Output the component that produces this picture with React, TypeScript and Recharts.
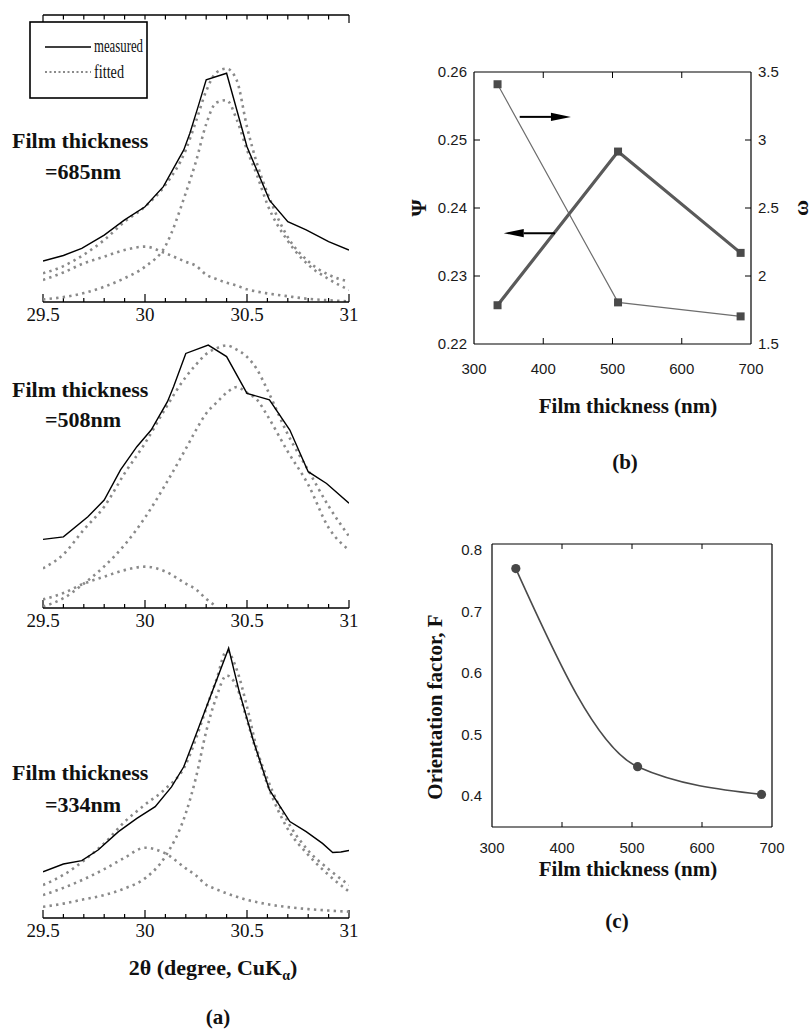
import React from 'react';
import { LineChart, Line, XAxis, YAxis, ReferenceLine } from 'recharts';

// ---------- (a) XRD profiles near 2θ ≈ 30.4° (intensity in arbitrary units) ----------
const THETA_TICKS = [29.5, 29.6, 29.7, 29.8, 29.9, 30.0, 30.1, 30.2, 30.3, 30.4, 30.5, 30.6, 30.7, 30.8, 30.9, 31.0];
const THETA_LABELS = [29.5, 30, 30.5, 31];

// 2θ grid of the fitted profiles
const THETA_FIT = [29.5, 29.6, 29.7, 29.8, 29.9, 30.0, 30.1, 30.2, 30.25, 30.3, 30.35, 30.4, 30.45, 30.5, 30.55, 30.6, 30.7, 30.8, 30.9, 31.0];

// 685 nm film
const FIT_685_TOTAL = [10.0, 12.5, 16.5, 21.6, 28.0, 33.2, 40.8, 53.0, 63.0, 73.5, 80.0, 81.3, 77.2, 61.0, 48.0, 38.0, 22.6, 14.2, 9.5, 7.1];
const FIT_685_MAIN = [0.9, 1.7, 3.1, 5.3, 8.3, 12.3, 19.5, 38.0, 49.0, 62.0, 69.5, 70.3, 63.5, 53.0, 44.0, 34.0, 21.3, 13.0, 8.0, 4.2];
const FIT_685_MINOR = [7.7, 10.3, 13.5, 15.8, 18.1, 19.3, 17.0, 14.0, 12.6, 9.5, 8.0, 6.7, 5.7, 4.4, 3.6, 3.0, 2.0, 1.1, 0.6, 0.2];
const MEAS_685_THETA = [29.5, 29.6, 29.69, 29.8, 29.9, 30.0, 30.09, 30.19, 30.22, 30.26, 30.3, 30.4, 30.5, 30.61, 30.7, 30.79, 30.9, 31.0];
const MEAS_685 = [14.3, 16.2, 18.7, 23.3, 28.6, 33.2, 40.2, 53.0, 58.8, 68.0, 77.4, 79.7, 54.1, 35.5, 28.0, 25.1, 21.0, 18.1];

// 508 nm film
const FIT_508_TOTAL = [13.8, 18.7, 27.3, 35.3, 46.9, 57.4, 69.5, 80.5, 84.8, 88.5, 90.5, 91.5, 90.0, 87.5, 83.0, 76.0, 60.5, 48.0, 35.5, 25.0];
const FIT_508_MAIN = [0.5, 3.4, 8.5, 14.5, 22.0, 31.5, 43.0, 55.5, 62.0, 67.8, 71.5, 75.0, 77.0, 75.0, 72.5, 67.0, 54.5, 43.0, 28.0, 20.2];
const FIT_508_MINOR = [3.0, 5.2, 8.5, 10.9, 13.2, 14.4, 12.7, 8.5, 6.5, 3.2, 0.5, null, null, null, null, null, null, null, null, null];
const MEAS_508_THETA = [29.5, 29.6, 29.72, 29.8, 29.88, 29.96, 30.03, 30.11, 30.14, 30.2, 30.31, 30.4, 30.5, 30.61, 30.71, 30.8, 30.89, 31.0];
const MEAS_508 = [23.9, 24.8, 31.8, 37.6, 48.1, 56.2, 62.0, 71.9, 77.1, 88.7, 91.6, 87.6, 74.8, 72.5, 62.0, 47.5, 43.4, 36.5];

// 334 nm film
const FIT_334_TOTAL = [11.5, 15.0, 20.0, 26.0, 33.5, 39.5, 45.0, 53.5, 62.5, 73.0, 83.0, 93.0, 86.5, 73.6, 58.5, 48.5, 33.5, 23.5, 17.0, 11.5];
const FIT_334_MAIN = [3.9, 5.0, 6.5, 8.0, 10.3, 13.8, 21.5, 36.5, 49.0, 65.0, 77.0, 84.5, 80.5, 69.0, 57.0, 46.5, 31.0, 22.0, 15.0, 9.2];
const FIT_334_MINOR = [8.0, 10.5, 13.5, 17.0, 21.0, 24.5, 22.5, 17.3, 14.8, 11.6, 10.0, 8.6, 7.4, 6.3, 5.5, 4.8, 3.8, 3.1, 2.6, 2.2];
const MEAS_334_THETA = [29.5, 29.6, 29.69, 29.77, 29.87, 29.96, 30.05, 30.13, 30.19, 30.24, 30.32, 30.41, 30.46, 30.53, 30.61, 30.71, 30.79, 30.87, 30.92, 30.96, 31.0];
const MEAS_334 = [16.1, 18.8, 20.0, 23.7, 30.1, 34.7, 38.8, 45.7, 52.7, 62.0, 77.1, 94.0, 79.4, 62.0, 44.6, 33.6, 30.1, 26.0, 22.8, 23.0, 23.5];

// ---------- (b) Ψ and ω, (c) orientation factor F vs film thickness ----------
const THICKNESS = [334, 508, 685];
const PSI = [0.2257, 0.2483, 0.2334];
const OMEGA = [3.41, 1.806, 1.703];
const F_FACTOR = [0.77, 0.448, 0.403];

const THICK_TICKS = [300, 400, 500, 600, 700];
const PSI_TICKS = [0.22, 0.23, 0.24, 0.25, 0.26];
const PSI_LABELS = ['0.22', '0.23', '0.24', '0.25', '0.26'];
const OMEGA_TICKS = [1.5, 2, 2.5, 3, 3.5];
const OMEGA_LABELS = ['1.5', '2', '2.5', '3', '3.5'];
const F_TICKS = [0.4, 0.5, 0.6, 0.7, 0.8];
const F_LABELS = ['0.4', '0.5', '0.6', '0.7', '0.8'];

// arrows pointing each curve to its axis: [x tail, x head, y]
const OMEGA_ARROW = [366, 440, 3.17];
const PSI_ARROW = [417, 343, 0.2363];

const SERIF = "'Liberation Serif', 'Times New Roman', serif";
const SANS = "'Liberation Sans', Arial, sans-serif";
const DOT_GRAY = '#8a8a8a';

// plot-area sizes (px), used to express tick-mark lengths in data units
const A_PLOT_H = 287;
const B_PLOT_W = 277;
const B_PLOT_H = 272;
const C_PLOT_H = 283;

const isMajor = (v: number) => THETA_LABELS.some((m) => Math.abs(m - v) < 1e-6);
const inner = (arr: number[]) => arr.slice(1, arr.length - 1);

const ThetaLabelTick = (props: any) => {
  const { x, y, payload } = props;
  const v = payload.value as number;
  if (!isMajor(v)) return <g />;
  return (
    <text x={x} y={y + 19} textAnchor="middle" fontFamily={SERIF} fontSize={19} fill="#111">
      {String(v)}
    </text>
  );
};

type XrdProps = {
  top: number;
  total: (number | null)[];
  main: (number | null)[];
  minor: (number | null)[];
  measTheta: number[];
  meas: number[];
  withTopAxis?: boolean;
};

const XrdPanel = ({ top, total, main, minor, measTheta, meas, withTopAxis }: XrdProps) => {
  const fitRows = THETA_FIT.map((t, i) => ({ theta: t, total: total[i], main: main[i], minor: minor[i] }));
  const measRows = measTheta.map((t, i) => ({ theta: t, I: meas[i] }));
  const px = 100 / A_PLOT_H;
  const dotted = {
    type: 'monotone' as const,
    stroke: DOT_GRAY,
    strokeWidth: 2.6,
    strokeDasharray: '2.4 4.2',
    dot: false,
    isAnimationActive: false,
    connectNulls: false,
  };
  return (
    <div style={{ position: 'absolute', left: 0, top }}>
      <LineChart width={360} height={340} data={fitRows} margin={{ top: 15, right: 11, bottom: 8, left: 43 }}>
        <XAxis
          dataKey="theta"
          type="number"
          domain={[29.5, 31]}
          allowDataOverflow
          ticks={THETA_TICKS}
          interval={0}
          height={30}
          tickSize={0}
          tickMargin={0}
          tickLine={false}
          axisLine={{ stroke: '#000', strokeWidth: 1.3 }}
          tick={<ThetaLabelTick />}
        />
        <YAxis hide width={0} type="number" domain={[0, 100]} allowDataOverflow />
        {/* inward tick marks: long at labelled values, short every 0.1° */}
        {THETA_TICKS.map((v) => (
          <ReferenceLine
            key={`b${v}`}
            segment={[{ x: v, y: 0 }, { x: v, y: (isMajor(v) ? 8 : 4) * px }]}
            stroke="#000"
            strokeWidth={1.2}
          />
        ))}
        {withTopAxis && <ReferenceLine y={100} stroke="#000" strokeWidth={1.3} />}
        {withTopAxis &&
          THETA_TICKS.map((v, i) => (
            <ReferenceLine
              key={`t${v}`}
              segment={[{ x: v, y: 100 }, { x: v, y: 100 - (i === 0 || i === THETA_TICKS.length - 1 ? 8 : 4.5) * px }]}
              stroke="#000"
              strokeWidth={1.2}
            />
          ))}
        <Line {...dotted} dataKey="minor" />
        <Line {...dotted} dataKey="main" />
        <Line {...dotted} dataKey="total" />
        <Line data={measRows} dataKey="I" type="linear" stroke="#000" strokeWidth={1.4} dot={false} isAnimationActive={false} />
      </LineChart>
    </div>
  );
};

// ---------- shared label renderers for (b) and (c) ----------
const makeBottomLabel = (gap: number) => (props: any) => {
  const { x, y, payload } = props;
  return (
    <text x={x} y={y + gap} textAnchor="middle" fontFamily={SANS} fontSize={15} fill="#1a1a1a">
      {String(payload.value)}
    </text>
  );
};

const makeSideLabel = (side: 'left' | 'right', ticks: number[], labels: string[], gap: number) => (props: any) => {
  const { x, y, payload } = props;
  const v = payload.value as number;
  const idx = ticks.findIndex((t) => Math.abs(t - v) < 1e-9);
  return (
    <text
      x={side === 'left' ? x - gap : x + gap}
      y={y + 5}
      textAnchor={side === 'left' ? 'end' : 'start'}
      fontFamily={SANS}
      fontSize={15}
      fill="#1a1a1a"
    >
      {idx >= 0 ? labels[idx] : String(v)}
    </text>
  );
};

const SquareDot = (props: any) => {
  const { cx, cy, index } = props;
  if (cx == null || cy == null) return <g key={index} />;
  return <rect key={index} x={cx - 4} y={cy - 4} width={8} height={8} fill="#4a4a4a" />;
};

const RoundDot = (props: any) => {
  const { cx, cy, index } = props;
  if (cx == null || cy == null) return <g key={index} />;
  return <circle key={index} cx={cx} cy={cy} r={4.6} fill="#474747" />;
};

const ArrowShape = (props: any) => {
  const { x1, y1, x2, y2 } = props;
  const dir = x2 > x1 ? 1 : -1;
  const headLen = 20;
  const half = 4.2;
  const base = x2 - dir * headLen;
  return (
    <g>
      <line x1={x1} y1={y1} x2={base} y2={y2} stroke="#000" strokeWidth={2} />
      <polygon points={`${x2},${y2} ${base},${y2 - half} ${base},${y2 + half}`} fill="#000" />
    </g>
  );
};

const axisLine = { stroke: '#000', strokeWidth: 1.2 };

const PanelB = () => {
  const rows = THICKNESS.map((t, i) => ({ t, psi: PSI[i], omega: OMEGA[i] }));
  const len = 6;
  const dy = (len * 0.04) / B_PLOT_H;
  const dx = (len * 400) / B_PLOT_W;
  return (
    <div style={{ position: 'absolute', left: 400, top: 40 }}>
      <LineChart width={412} height={345} data={rows} margin={{ top: 32, right: 11, bottom: 11, left: 14 }}>
        <XAxis
          dataKey="t"
          type="number"
          domain={[300, 700]}
          ticks={THICK_TICKS}
          interval={0}
          height={30}
          tickSize={0}
          tickMargin={0}
          tickLine={false}
          axisLine={axisLine}
          tick={makeBottomLabel(29.5)}
        />
        <YAxis
          yAxisId="psi"
          type="number"
          domain={[0.22, 0.26]}
          allowDataOverflow
          ticks={PSI_TICKS}
          interval={0}
          width={60}
          tickSize={0}
          tickMargin={0}
          tickLine={false}
          axisLine={axisLine}
          tick={makeSideLabel('left', PSI_TICKS, PSI_LABELS, 7)}
        />
        <YAxis
          yAxisId="omega"
          orientation="right"
          type="number"
          domain={[1.5, 3.5]}
          allowDataOverflow
          ticks={OMEGA_TICKS}
          interval={0}
          width={50}
          tickSize={0}
          tickMargin={0}
          tickLine={false}
          axisLine={axisLine}
          tick={makeSideLabel('right', OMEGA_TICKS, OMEGA_LABELS, 7)}
        />
        <ReferenceLine yAxisId="psi" y={0.26} stroke="#000" strokeWidth={1.2} />
        {inner(THICK_TICKS).map((v) => (
          <ReferenceLine key={`bb${v}`} yAxisId="psi" segment={[{ x: v, y: 0.22 }, { x: v, y: 0.22 + dy }]} stroke="#000" />
        ))}
        {inner(THICK_TICKS).map((v) => (
          <ReferenceLine key={`bt${v}`} yAxisId="psi" segment={[{ x: v, y: 0.26 }, { x: v, y: 0.26 - dy }]} stroke="#000" />
        ))}
        {inner(PSI_TICKS).map((v) => (
          <ReferenceLine key={`bl${v}`} yAxisId="psi" segment={[{ x: 300, y: v }, { x: 300 + dx, y: v }]} stroke="#000" />
        ))}
        {inner(OMEGA_TICKS).map((v) => (
          <ReferenceLine key={`br${v}`} yAxisId="omega" segment={[{ x: 700, y: v }, { x: 700 - dx, y: v }]} stroke="#000" />
        ))}
        <Line yAxisId="omega" dataKey="omega" type="linear" stroke="#6e6e6e" strokeWidth={1.2} dot={<SquareDot />} isAnimationActive={false} />
        <Line yAxisId="psi" dataKey="psi" type="linear" stroke="#5a5a5a" strokeWidth={3.2} dot={<SquareDot />} isAnimationActive={false} />
        <ReferenceLine
          yAxisId="omega"
          segment={[{ x: OMEGA_ARROW[0], y: OMEGA_ARROW[2] }, { x: OMEGA_ARROW[1], y: OMEGA_ARROW[2] }]}
          shape={<ArrowShape />}
        />
        <ReferenceLine
          yAxisId="psi"
          segment={[{ x: PSI_ARROW[0], y: PSI_ARROW[2] }, { x: PSI_ARROW[1], y: PSI_ARROW[2] }]}
          shape={<ArrowShape />}
        />
      </LineChart>
    </div>
  );
};

const PanelC = () => {
  const rows = THICKNESS.map((t, i) => ({ t, F: F_FACTOR[i] }));
  const len = 5;
  const dy = (len * 0.46) / C_PLOT_H;
  return (
    <div style={{ position: 'absolute', left: 400, top: 500 }}>
      <LineChart width={412} height={368} data={rows} margin={{ top: 44, right: 40, bottom: 11, left: 32 }}>
        <XAxis
          dataKey="t"
          type="number"
          domain={[300, 700]}
          ticks={THICK_TICKS}
          interval={0}
          height={30}
          tickSize={0}
          tickMargin={0}
          tickLine={false}
          axisLine={axisLine}
          tick={makeBottomLabel(25.5)}
        />
        <YAxis
          type="number"
          domain={[0.35, 0.81]}
          allowDataOverflow
          ticks={F_TICKS}
          interval={0}
          width={60}
          tickSize={0}
          tickMargin={0}
          tickLine={false}
          axisLine={axisLine}
          tick={makeSideLabel('left', F_TICKS, F_LABELS, 10)}
        />
        <ReferenceLine y={0.81} stroke="#000" strokeWidth={1.2} />
        <ReferenceLine x={700} stroke="#000" strokeWidth={1.2} />
        {inner(THICK_TICKS).map((v) => (
          <ReferenceLine key={`cb${v}`} segment={[{ x: v, y: 0.35 }, { x: v, y: 0.35 + dy }]} stroke="#000" />
        ))}
        {inner(THICK_TICKS).map((v) => (
          <ReferenceLine key={`ct${v}`} segment={[{ x: v, y: 0.81 }, { x: v, y: 0.81 - dy }]} stroke="#000" />
        ))}
        <Line dataKey="F" type="monotone" stroke="#4a4a4a" strokeWidth={1.6} dot={<RoundDot />} isAnimationActive={false} />
      </LineChart>
    </div>
  );
};

const Legend = () => (
  <svg width={140} height={90} style={{ position: 'absolute', left: 28, top: 20 }}>
    <rect x={2} y={2} width={117} height={76} fill="#fff" stroke="#000" strokeWidth={1.6} />
    <line x1={17} x2={63} y1={27} y2={27} stroke="#000" strokeWidth={1.6} />
    <text x={66} y={32} fontFamily={SERIF} fontSize={18} textLength={49} lengthAdjust="spacingAndGlyphs" fill="#111">
      measured
    </text>
    <line x1={17} x2={63} y1={52} y2={52} stroke={DOT_GRAY} strokeWidth={2} strokeDasharray="2 2.5" />
    <text x={66} y={58} fontFamily={SERIF} fontSize={18} textLength={30} lengthAdjust="spacingAndGlyphs" fill="#111">
      fitted
    </text>
  </svg>
);

const Texts = () => {
  const bold = { fontFamily: SERIF, fontWeight: 700, fill: '#111' } as const;
  return (
    <svg width={812} height={1032} style={{ position: 'absolute', left: 0, top: 0, pointerEvents: 'none' }}>
      <text x={12} y={148} fontSize={22} {...bold}>Film thickness</text>
      <text x={45} y={179} fontSize={22} {...bold}>=685nm</text>
      <text x={12} y={397} fontSize={22} {...bold}>Film thickness</text>
      <text x={45} y={427} fontSize={22} {...bold}>=508nm</text>
      <text x={12} y={780} fontSize={22} {...bold}>Film thickness</text>
      <text x={45} y={812} fontSize={22} {...bold}>=334nm</text>
      <text x={213} y={975} fontSize={22} textAnchor="middle" {...bold}>
        2θ (degree, CuK<tspan fontSize={14} dy={5}>α</tspan>
        <tspan dy={-5}>)</tspan>
      </text>
      <text x={218} y={1024} fontSize={21} textAnchor="middle" {...bold}>(a)</text>

      <text x={418} y={208} fontSize={22} textAnchor="middle" dominantBaseline="central" transform="rotate(-90 418 208)" {...bold}>Ψ</text>
      <text x={800} y={208} fontSize={22} textAnchor="middle" dominantBaseline="central" transform="rotate(-90 800 208)" {...bold}>ω</text>
      <text x={628} y={413} fontSize={21} textAnchor="middle" {...bold}>Film thickness (nm)</text>
      <text x={625} y={469} fontSize={21} textAnchor="middle" {...bold}>(b)</text>

      <text x={435} y={707} fontSize={21} textAnchor="middle" dominantBaseline="central" transform="rotate(-90 435 707)" {...bold}>Orientation factor, F</text>
      <text x={628} y={876} fontSize={21} textAnchor="middle" {...bold}>Film thickness (nm)</text>
      <text x={617} y={928} fontSize={21} textAnchor="middle" {...bold}>(c)</text>
    </svg>
  );
};

export default function App() {
  return (
    <div style={{ position: 'absolute', left: 0, top: 0, width: 812, height: 1032, background: '#fff', overflow: 'hidden' }}>
      <XrdPanel top={0} total={FIT_685_TOTAL} main={FIT_685_MAIN} minor={FIT_685_MINOR} measTheta={MEAS_685_THETA} meas={MEAS_685} withTopAxis />
      <XrdPanel top={306} total={FIT_508_TOTAL} main={FIT_508_MAIN} minor={FIT_508_MINOR} measTheta={MEAS_508_THETA} meas={MEAS_508} />
      <XrdPanel top={616} total={FIT_334_TOTAL} main={FIT_334_MAIN} minor={FIT_334_MINOR} measTheta={MEAS_334_THETA} meas={MEAS_334} />
      <Legend />
      <PanelB />
      <PanelC />
      <Texts />
    </div>
  );
}
